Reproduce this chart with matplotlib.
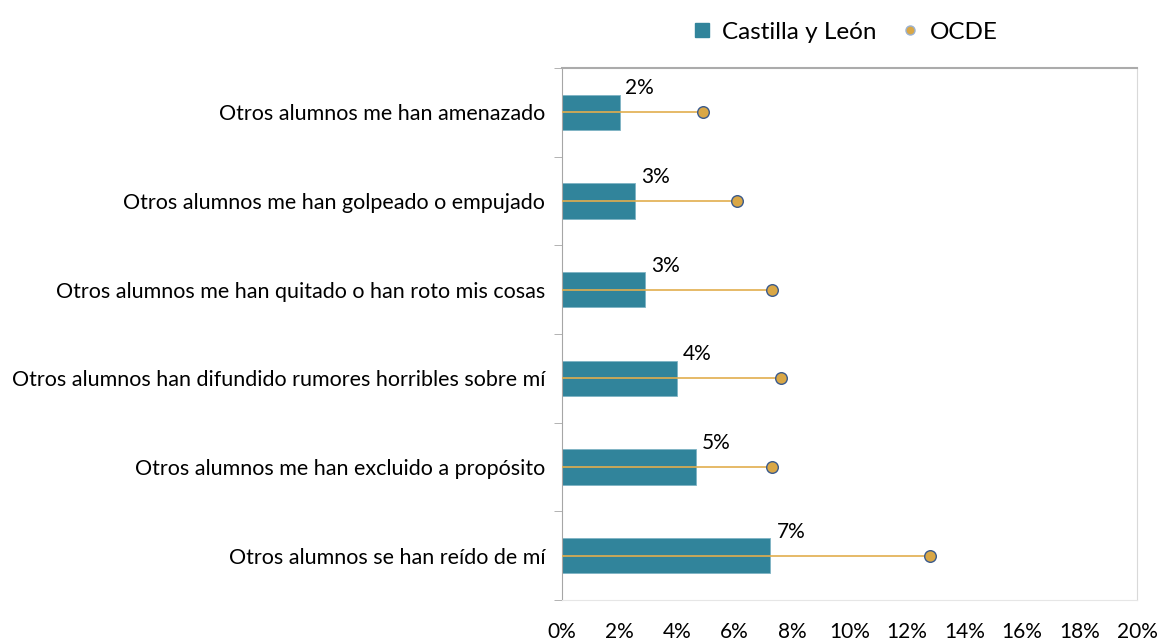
import numpy as np
import matplotlib.pyplot as plt
from matplotlib.lines import Line2D
from matplotlib.ticker import FixedLocator, PercentFormatter

plt.rcParams['font.family'] = ['Lato', 'DejaVu Sans']

categorias = [
    "Otros alumnos me han amenazado",
    "Otros alumnos me han golpeado o empujado",
    "Otros alumnos me han quitado o han roto mis cosas",
    "Otros alumnos han difundido rumores horribles sobre mí",
    "Otros alumnos me han excluido a propósito",
    "Otros alumnos se han reído de mí",
]
castilla_leon = [2.0, 2.55, 2.9, 4.0, 4.65, 7.25]
etiquetas = ["2%", "3%", "3%", "4%", "5%", "7%"]
ocde = [4.9, 6.1, 7.3, 7.6, 7.3, 12.8]

color_barra = "#31849B"
color_ocde = "#D9A746"
color_borde = "#3A5A8C"

fig = plt.figure(figsize=(11.62, 6.4), dpi=100)
ax = fig.add_axes([562/1162, 1-600/640, (1137-562)/1162, (600-68)/640])

y = np.arange(len(categorias))
ax.barh(y, castilla_leon, height=0.4, color=color_barra, edgecolor="#7FB3C4", linewidth=0.6, zorder=2)
for yi, v in zip(y, ocde):
    ax.plot([0, v], [yi, yi], color="#E2AE4E", lw=1.2, zorder=3)
ax.scatter(ocde, y, s=70, color=color_ocde, edgecolor=color_borde, linewidth=1.0, zorder=4)

# etiquetas de datos encima del final de cada barra
for yi, v, t in zip(y, castilla_leon, etiquetas):
    ax.annotate(t, (v, yi), xytext=(6, 24), textcoords="offset pixels",
                ha="left", va="center", fontsize=15)

ax.set_xlim(0, 20)
ax.set_ylim(len(categorias) - 0.5, -0.5)
ax.set_xticks(np.arange(0, 21, 2))
ax.xaxis.set_major_formatter(PercentFormatter(decimals=0))
ax.tick_params(axis="x", length=0, pad=16, labelsize=15)

ax.set_yticks(y)
ax.set_yticklabels(categorias, fontsize=15.5)
ax.tick_params(axis="y", which="major", length=0, pad=12)
ax.yaxis.set_minor_locator(FixedLocator(np.arange(-0.5, len(categorias), 1)))
ax.tick_params(axis="y", which="minor", length=6, color="#A6A6A6", direction="out")

ax.spines["left"].set_color("#A6A6A6")
ax.spines["top"].set_color("#ABABAB")
ax.spines["top"].set_linewidth(1.5)
ax.spines["right"].set_color("#D9D9D9")
ax.spines["bottom"].set_color("#E6E6E6")

handles = [
    Line2D([], [], marker="s", linestyle="none", markersize=10, color=color_barra),
    Line2D([], [], marker="o", linestyle="none", markersize=6.5, markerfacecolor=color_ocde,
           markeredgecolor="#9BB1CF"),
]
fig.legend(handles, ["Castilla y León", "OCDE"], loc="center", bbox_to_anchor=(845/1162, 1-32/640),
           ncol=2, frameon=False, fontsize=17.5, handlelength=0.8, handletextpad=0.4, columnspacing=1.0)

fig.savefig("out.png", dpi=100)
